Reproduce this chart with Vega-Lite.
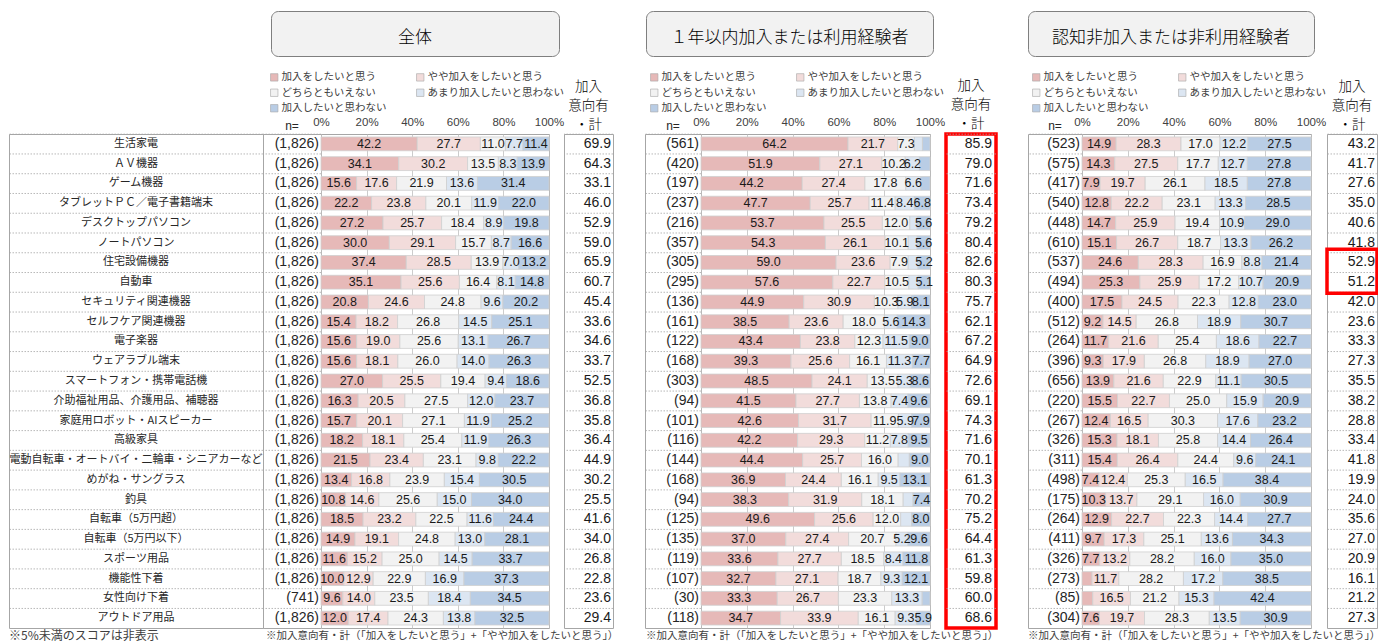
{
  "$schema": "https://vega.github.io/schema/vega-lite/v6.json",
  "padding": {"left": 8, "top": 10, "right": 0, "bottom": 0},
  "background": "#ffffff",
  "config": {
    "view": {"stroke": null},
    "font": "Noto Sans CJK JP",
    "concat": {"spacing": 0},
    "title": {"fontWeight": "normal"}
  },
  "datasets": {
    "cats": [
      {"key": "a", "o": 1, "label": "加入をしたいと思う"},
      {"key": "b", "o": 2, "label": "やや加入をしたいと思う"},
      {"key": "c", "o": 3, "label": "どちらともいえない"},
      {"key": "d", "o": 4, "label": "あまり加入したいと思わない"},
      {"key": "e", "o": 5, "label": "加入したいと思わない"}
    ],
    "rows": [
      {"g":"全体","item":"生活家電","n":"(1,826)","t":69.9,"a":42.2,"b":27.7,"c":11.0,"d":7.7,"e":11.4},
      {"g":"全体","item":"ＡＶ機器","n":"(1,826)","t":64.3,"a":34.1,"b":30.2,"c":13.5,"d":8.3,"e":13.9},
      {"g":"全体","item":"ゲーム機器","n":"(1,826)","t":33.1,"a":15.6,"b":17.6,"c":21.9,"d":13.6,"e":31.4},
      {"g":"全体","item":"タブレットＰＣ／電子書籍端末","n":"(1,826)","t":46.0,"a":22.2,"b":23.8,"c":20.1,"d":11.9,"e":22.0},
      {"g":"全体","item":"デスクトップパソコン","n":"(1,826)","t":52.9,"a":27.2,"b":25.7,"c":18.4,"d":8.9,"e":19.8},
      {"g":"全体","item":"ノートパソコン","n":"(1,826)","t":59.0,"a":30.0,"b":29.1,"c":15.7,"d":8.7,"e":16.6},
      {"g":"全体","item":"住宅設備機器","n":"(1,826)","t":65.9,"a":37.4,"b":28.5,"c":13.9,"d":7.0,"e":13.2},
      {"g":"全体","item":"自動車","n":"(1,826)","t":60.7,"a":35.1,"b":25.6,"c":16.4,"d":8.1,"e":14.8},
      {"g":"全体","item":"セキュリティ関連機器","n":"(1,826)","t":45.4,"a":20.8,"b":24.6,"c":24.8,"d":9.6,"e":20.2},
      {"g":"全体","item":"セルフケア関連機器","n":"(1,826)","t":33.6,"a":15.4,"b":18.2,"c":26.8,"d":14.5,"e":25.1},
      {"g":"全体","item":"電子楽器","n":"(1,826)","t":34.6,"a":15.6,"b":19.0,"c":25.6,"d":13.1,"e":26.7},
      {"g":"全体","item":"ウェアラブル端末","n":"(1,826)","t":33.7,"a":15.6,"b":18.1,"c":26.0,"d":14.0,"e":26.3},
      {"g":"全体","item":"スマートフォン・携帯電話機","n":"(1,826)","t":52.5,"a":27.0,"b":25.5,"c":19.4,"d":9.4,"e":18.6},
      {"g":"全体","item":"介助福祉用品、介護用品、補聴器","n":"(1,826)","t":36.8,"a":16.3,"b":20.5,"c":27.5,"d":12.0,"e":23.7},
      {"g":"全体","item":"家庭用ロボット・AIスピーカー","n":"(1,826)","t":35.8,"a":15.7,"b":20.1,"c":27.1,"d":11.9,"e":25.2},
      {"g":"全体","item":"高級家具","n":"(1,826)","t":36.4,"a":18.2,"b":18.1,"c":25.4,"d":11.9,"e":26.3},
      {"g":"全体","item":"電動自転車・オートバイ・二輪車・シニアカーなど","n":"(1,826)","t":44.9,"a":21.5,"b":23.4,"c":23.1,"d":9.8,"e":22.2},
      {"g":"全体","item":"めがね・サングラス","n":"(1,826)","t":30.2,"a":13.4,"b":16.8,"c":23.9,"d":15.4,"e":30.5},
      {"g":"全体","item":"釣具","n":"(1,826)","t":25.5,"a":10.8,"b":14.6,"c":25.6,"d":15.0,"e":34.0},
      {"g":"全体","item":"自転車（5万円超）","n":"(1,826)","t":41.6,"a":18.5,"b":23.2,"c":22.5,"d":11.6,"e":24.4},
      {"g":"全体","item":"自転車（5万円以下）","n":"(1,826)","t":34.0,"a":14.9,"b":19.1,"c":24.8,"d":13.0,"e":28.1},
      {"g":"全体","item":"スポーツ用品","n":"(1,826)","t":26.8,"a":11.6,"b":15.2,"c":25.0,"d":14.5,"e":33.7},
      {"g":"全体","item":"機能性下着","n":"(1,826)","t":22.8,"a":10.0,"b":12.9,"c":22.9,"d":16.9,"e":37.3},
      {"g":"全体","item":"女性向け下着","n":"(741)","t":23.6,"a":9.6,"b":14.0,"c":23.5,"d":18.4,"e":34.5},
      {"g":"全体","item":"アウトドア用品","n":"(1,826)","t":29.4,"a":12.0,"b":17.4,"c":24.3,"d":13.8,"e":32.5},

      {"g":"経験","item":"生活家電","n":"(561)","t":85.9,"a":64.2,"b":21.7,"c":7.3,"d":3.5,"e":3.3},
      {"g":"経験","item":"ＡＶ機器","n":"(420)","t":79.0,"a":51.9,"b":27.1,"c":10.2,"d":6.2,"e":4.6},
      {"g":"経験","item":"ゲーム機器","n":"(197)","t":71.6,"a":44.2,"b":27.4,"c":17.8,"d":6.6,"e":4.0},
      {"g":"経験","item":"タブレットＰＣ／電子書籍端末","n":"(237)","t":73.4,"a":47.7,"b":25.7,"c":11.4,"d":8.4,"e":6.8},
      {"g":"経験","item":"デスクトップパソコン","n":"(216)","t":79.2,"a":53.7,"b":25.5,"c":12.0,"d":3.2,"e":5.6},
      {"g":"経験","item":"ノートパソコン","n":"(357)","t":80.4,"a":54.3,"b":26.1,"c":10.1,"d":3.9,"e":5.6},
      {"g":"経験","item":"住宅設備機器","n":"(305)","t":82.6,"a":59.0,"b":23.6,"c":7.9,"d":4.3,"e":5.2},
      {"g":"経験","item":"自動車","n":"(295)","t":80.3,"a":57.6,"b":22.7,"c":10.5,"d":4.1,"e":5.1},
      {"g":"経験","item":"セキュリティ関連機器","n":"(136)","t":75.7,"a":44.9,"b":30.9,"c":10.3,"d":5.9,"e":8.1},
      {"g":"経験","item":"セルフケア関連機器","n":"(161)","t":62.1,"a":38.5,"b":23.6,"c":18.0,"d":5.6,"e":14.3},
      {"g":"経験","item":"電子楽器","n":"(122)","t":67.2,"a":43.4,"b":23.8,"c":12.3,"d":11.5,"e":9.0},
      {"g":"経験","item":"ウェアラブル端末","n":"(168)","t":64.9,"a":39.3,"b":25.6,"c":16.1,"d":11.3,"e":7.7},
      {"g":"経験","item":"スマートフォン・携帯電話機","n":"(303)","t":72.6,"a":48.5,"b":24.1,"c":13.5,"d":5.3,"e":8.6},
      {"g":"経験","item":"介助福祉用品、介護用品、補聴器","n":"(94)","t":69.1,"a":41.5,"b":27.7,"c":13.8,"d":7.4,"e":9.6},
      {"g":"経験","item":"家庭用ロボット・AIスピーカー","n":"(101)","t":74.3,"a":42.6,"b":31.7,"c":11.9,"d":5.9,"e":7.9},
      {"g":"経験","item":"高級家具","n":"(116)","t":71.6,"a":42.2,"b":29.3,"c":11.2,"d":7.8,"e":9.5},
      {"g":"経験","item":"電動自転車・オートバイ・二輪車・シニアカーなど","n":"(144)","t":70.1,"a":44.4,"b":25.7,"c":16.0,"d":4.9,"e":9.0},
      {"g":"経験","item":"めがね・サングラス","n":"(168)","t":61.3,"a":36.9,"b":24.4,"c":16.1,"d":9.5,"e":13.1},
      {"g":"経験","item":"釣具","n":"(94)","t":70.2,"a":38.3,"b":31.9,"c":18.1,"d":4.3,"e":7.4},
      {"g":"経験","item":"自転車（5万円超）","n":"(125)","t":75.2,"a":49.6,"b":25.6,"c":12.0,"d":4.8,"e":8.0},
      {"g":"経験","item":"自転車（5万円以下）","n":"(135)","t":64.4,"a":37.0,"b":27.4,"c":20.7,"d":5.2,"e":9.6},
      {"g":"経験","item":"スポーツ用品","n":"(119)","t":61.3,"a":33.6,"b":27.7,"c":18.5,"d":8.4,"e":11.8},
      {"g":"経験","item":"機能性下着","n":"(107)","t":59.8,"a":32.7,"b":27.1,"c":18.7,"d":9.3,"e":12.1},
      {"g":"経験","item":"女性向け下着","n":"(30)","t":60.0,"a":33.3,"b":26.7,"c":23.3,"d":13.3,"e":3.4},
      {"g":"経験","item":"アウトドア用品","n":"(118)","t":68.6,"a":34.7,"b":33.9,"c":16.1,"d":9.3,"e":5.9},

      {"g":"非経験","item":"生活家電","n":"(523)","t":43.2,"a":14.9,"b":28.3,"c":17.0,"d":12.2,"e":27.5},
      {"g":"非経験","item":"ＡＶ機器","n":"(575)","t":41.7,"a":14.3,"b":27.5,"c":17.7,"d":12.7,"e":27.8},
      {"g":"非経験","item":"ゲーム機器","n":"(417)","t":27.6,"a":7.9,"b":19.7,"c":26.1,"d":18.5,"e":27.8},
      {"g":"非経験","item":"タブレットＰＣ／電子書籍端末","n":"(540)","t":35.0,"a":12.8,"b":22.2,"c":23.1,"d":13.3,"e":28.5},
      {"g":"非経験","item":"デスクトップパソコン","n":"(448)","t":40.6,"a":14.7,"b":25.9,"c":19.4,"d":10.9,"e":29.0},
      {"g":"非経験","item":"ノートパソコン","n":"(610)","t":41.8,"a":15.1,"b":26.7,"c":18.7,"d":13.3,"e":26.2},
      {"g":"非経験","item":"住宅設備機器","n":"(537)","t":52.9,"a":24.6,"b":28.3,"c":16.9,"d":8.8,"e":21.4},
      {"g":"非経験","item":"自動車","n":"(494)","t":51.2,"a":25.3,"b":25.9,"c":17.2,"d":10.7,"e":20.9},
      {"g":"非経験","item":"セキュリティ関連機器","n":"(400)","t":42.0,"a":17.5,"b":24.5,"c":22.3,"d":12.8,"e":23.0},
      {"g":"非経験","item":"セルフケア関連機器","n":"(512)","t":23.6,"a":9.2,"b":14.5,"c":26.8,"d":18.9,"e":30.7},
      {"g":"非経験","item":"電子楽器","n":"(264)","t":33.3,"a":11.7,"b":21.6,"c":25.4,"d":18.6,"e":22.7},
      {"g":"非経験","item":"ウェアラブル端末","n":"(396)","t":27.3,"a":9.3,"b":17.9,"c":26.8,"d":18.9,"e":27.0},
      {"g":"非経験","item":"スマートフォン・携帯電話機","n":"(656)","t":35.5,"a":13.9,"b":21.6,"c":22.9,"d":11.1,"e":30.5},
      {"g":"非経験","item":"介助福祉用品、介護用品、補聴器","n":"(220)","t":38.2,"a":15.5,"b":22.7,"c":25.0,"d":15.9,"e":20.9},
      {"g":"非経験","item":"家庭用ロボット・AIスピーカー","n":"(267)","t":28.8,"a":12.4,"b":16.5,"c":30.3,"d":17.6,"e":23.2},
      {"g":"非経験","item":"高級家具","n":"(326)","t":33.4,"a":15.3,"b":18.1,"c":25.8,"d":14.4,"e":26.4},
      {"g":"非経験","item":"電動自転車・オートバイ・二輪車・シニアカーなど","n":"(311)","t":41.8,"a":15.4,"b":26.4,"c":24.4,"d":9.6,"e":24.1},
      {"g":"非経験","item":"めがね・サングラス","n":"(498)","t":19.9,"a":7.4,"b":12.4,"c":25.3,"d":16.5,"e":38.4},
      {"g":"非経験","item":"釣具","n":"(175)","t":24.0,"a":10.3,"b":13.7,"c":29.1,"d":16.0,"e":30.9},
      {"g":"非経験","item":"自転車（5万円超）","n":"(264)","t":35.6,"a":12.9,"b":22.7,"c":22.3,"d":14.4,"e":27.7},
      {"g":"非経験","item":"自転車（5万円以下）","n":"(411)","t":27.0,"a":9.7,"b":17.3,"c":25.1,"d":13.6,"e":34.3},
      {"g":"非経験","item":"スポーツ用品","n":"(326)","t":20.9,"a":7.7,"b":13.2,"c":28.2,"d":16.0,"e":35.0},
      {"g":"非経験","item":"機能性下着","n":"(273)","t":16.1,"a":4.4,"b":11.7,"c":28.2,"d":17.2,"e":38.5},
      {"g":"非経験","item":"女性向け下着","n":"(85)","t":21.2,"a":4.7,"b":16.5,"c":21.2,"d":15.3,"e":42.4},
      {"g":"非経験","item":"アウトドア用品","n":"(304)","t":27.3,"a":7.6,"b":19.7,"c":28.3,"d":13.5,"e":30.9}
    ]
  },
  "resolve": {"scale": {"color": "independent"}, "legend": {"color": "independent"}},
  "spacing": 14,
  "vconcat": [
    {
      "hconcat": [
        {"width": 262, "height": 45, "data": {"values": [{}]}, "mark": "text", "encoding": {}},
        {"width": 288, "height": 45, "data": {"values": [{"t": "全体"}]}, "view": {"fill": "#f2f2f2", "stroke": "#7f7f7f", "cornerRadius": 7}, "mark": {"type": "text", "fontSize": 17, "fontWeight": 300, "font": "Noto Sans CJK JP", "dy": 4, "color": "#000000"}, "encoding": {"text": {"field": "t"}}},
        {"width": 87, "height": 45, "data": {"values": [{}]}, "mark": "text", "encoding": {}},
        {"width": 287, "height": 45, "data": {"values": [{"t": "１年以内加入または利用経験者"}]}, "view": {"fill": "#f2f2f2", "stroke": "#7f7f7f", "cornerRadius": 7}, "mark": {"type": "text", "fontSize": 17, "fontWeight": 300, "font": "Noto Sans CJK JP", "dy": 4, "color": "#000000"}, "encoding": {"text": {"field": "t"}}},
        {"width": 95, "height": 45, "data": {"values": [{}]}, "mark": "text", "encoding": {}},
        {"width": 286, "height": 45, "data": {"values": [{"t": "認知非加入または非利用経験者"}]}, "view": {"fill": "#f2f2f2", "stroke": "#7f7f7f", "cornerRadius": 7}, "mark": {"type": "text", "fontSize": 17, "fontWeight": 300, "font": "Noto Sans CJK JP", "dy": 4, "color": "#000000"}, "encoding": {"text": {"field": "t"}}}
      ],
      "spacing": 0,
      "bounds": "flush"
    },
    {
      "hconcat": [
        {
          "width": 254, "height": 494,
          "data": {"name": "rows"},
          "transform": [{"filter": "datum.g === '全体'"}],
          "view": {"stroke": "#a6a6a6"},
          "title": {"text": "※5%未満のスコアは非表示", "orient": "bottom", "anchor": "start", "frame": "group", "offset": 3, "fontSize": 12, "fontWeight": "normal", "font": "Noto Sans CJK JP", "color": "#404040"},
          "encoding": {"y": {"field": "item", "type": "nominal", "sort": null, "axis": null, "scale": {"paddingInner": 0.3, "paddingOuter": 0.15}}},
          "layer": [
            {"mark": {"type": "rule", "color": "#a6a6a6", "strokeDash": [1.5, 1.5], "strokeWidth": 0.8}, "encoding": {"y": {"field": "item", "type": "nominal", "sort": null, "axis": null, "bandPosition": -0.2}}},
            {"mark": {"type": "text", "fontSize": 11, "font": "Noto Sans CJK JP", "color": "#262626"}, "encoding": {"text": {"field": "item"}}}
          ]
        },
        {
          "width": 58, "height": 494,
          "data": {"name": "rows"},
          "transform": [{"filter": "datum.g === '全体'"}],
          "view": {"stroke": "#a6a6a6"},
          "title": {"text": "n=", "orient": "top", "anchor": "middle", "offset": 1, "fontSize": 12, "fontWeight": "normal", "font": "Liberation Sans", "color": "#262626"},
          "encoding": {"y": {"field": "item", "type": "nominal", "sort": null, "axis": null, "scale": {"paddingInner": 0.3, "paddingOuter": 0.15}}},
          "layer": [
            {"mark": {"type": "rule", "color": "#a6a6a6", "strokeDash": [1.5, 1.5], "strokeWidth": 0.8}, "encoding": {"y": {"field": "item", "type": "nominal", "sort": null, "axis": null, "bandPosition": -0.2}}},
            {"mark": {"type": "text", "align": "right", "dx": -2, "fontSize": 14, "font": "Liberation Sans", "color": "#262626"}, "encoding": {"x": {"value": "width"}, "text": {"field": "n"}}}
          ]
        },
        {
          "width": 228, "height": 494,
          "data": {"name": "rows"},
          "transform": [
            {"filter": "datum.g === '全体'"},
            {"fold": ["a", "b", "c", "d", "e"], "as": ["key", "v"]},
            {"lookup": "key", "from": {"data": {"name": "cats"}, "key": "key", "fields": ["label", "o"]}}
          ],
          "view": {"stroke": "#a6a6a6"},
          "title": {"text": "※加入意向有・計（「加入をしたいと思う」+「やや加入をしたいと思う」）", "orient": "bottom", "anchor": "start", "frame": "group", "dx": -55, "offset": 3, "fontSize": 10.5, "fontWeight": "normal", "font": "Noto Sans CJK JP", "color": "#404040"},
          "encoding": {
            "y": {"field": "item", "type": "nominal", "sort": null, "axis": null, "scale": {"paddingInner": 0.3, "paddingOuter": 0.15}},
            "x": {"field": "v", "type": "quantitative", "stack": "normalize", "scale": {"domain": [0, 1], "nice": false},
                  "axis": {"orient": "top", "values": [0, 0.2, 0.4, 0.6, 0.8, 1], "format": ".0%", "title": null, "domain": false, "ticks": false, "tickSize": 0, "labelPadding": 7, "labelFontSize": 11.5, "labelFont": "Liberation Sans", "labelColor": "#404040", "grid": true, "gridColor": "#bfbfbf", "gridWidth": 0.8, "labelFlush": false, "labelOverlap": false}}
          },
          "layer": [
            {"mark": {"type": "bar", "stroke": "#cfcfcf", "strokeWidth": 0.8},
             "encoding": {
               "color": {"field": "label", "type": "nominal",
                 "scale": {"domain": ["加入をしたいと思う", "やや加入をしたいと思う", "どちらともいえない", "あまり加入したいと思わない", "加入したいと思わない"], "range": ["#e6b9b8", "#f2dcdb", "#f2f2f2", "#dce6f2", "#b9cde5"]},
                 "legend": {"orient": "none", "legendX": -52, "legendY": -62, "title": null, "columns": 2, "values": ["加入をしたいと思う", "どちらともいえない", "加入したいと思わない", "やや加入をしたいと思う", "あまり加入したいと思わない"], "symbolType": "square", "symbolSize": 55, "symbolStrokeColor": "#a6a6a6", "symbolStrokeWidth": 0.6, "labelFontSize": 10.5, "labelFont": "Noto Sans CJK JP", "labelColor": "#404040", "labelOffset": 2, "columnPadding": 28, "rowPadding": 4.5, "labelLimit": 220}},
               "order": {"field": "o", "type": "quantitative"}
             }},
            {"mark": {"type": "text", "fontSize": 12.5, "font": "Liberation Sans", "color": "#1a1a1a"},
             "encoding": {
               "x": {"field": "v", "type": "quantitative", "stack": "normalize", "bandPosition": 0.5},
               "detail": {"field": "label"},
               "order": {"field": "o", "type": "quantitative"},
               "text": {"field": "v", "type": "quantitative", "format": ".1f"},
               "opacity": {"condition": {"test": "datum.v < 5", "value": 0}, "value": 1}
             }}
          ]
        },
        {"width": 15, "height": 494, "data": {"values": [{}]}, "mark": "text", "encoding": {}},
        {
          "width": 49, "height": 494,
          "data": {"name": "rows"},
          "transform": [{"filter": "datum.g === '全体'"}],
          "view": {"stroke": "#a6a6a6"},
          "title": {"text": ["加入", "意向有", "・計"], "orient": "top", "anchor": "middle", "offset": 2, "fontSize": 13.5, "fontWeight": 300, "lineHeight": 19, "font": "Noto Sans CJK JP", "color": "#000000"},
          "encoding": {"y": {"field": "item", "type": "nominal", "sort": null, "axis": null, "scale": {"paddingInner": 0.3, "paddingOuter": 0.15}}},
          "layer": [
            {"mark": {"type": "rule", "color": "#a6a6a6", "strokeDash": [1.5, 1.5], "strokeWidth": 0.8}, "encoding": {"y": {"field": "item", "type": "nominal", "sort": null, "axis": null, "bandPosition": -0.2}}},
            {"mark": {"type": "text", "align": "right", "dx": -2, "fontSize": 14, "font": "Liberation Sans", "color": "#1a1a1a"}, "encoding": {"x": {"value": "width"}, "text": {"field": "t", "type": "quantitative", "format": ".1f"}}}
          ]
        },
        {"width": 32, "height": 494, "data": {"values": [{}]}, "mark": "text", "encoding": {}},
        {
          "width": 56, "height": 494,
          "data": {"name": "rows"},
          "transform": [{"filter": "datum.g === '経験'"}],
          "view": {"stroke": "#a6a6a6"},
          "title": {"text": "n=", "orient": "top", "anchor": "middle", "offset": 1, "fontSize": 12, "fontWeight": "normal", "font": "Liberation Sans", "color": "#262626"},
          "encoding": {"y": {"field": "item", "type": "nominal", "sort": null, "axis": null, "scale": {"paddingInner": 0.3, "paddingOuter": 0.15}}},
          "layer": [
            {"mark": {"type": "rule", "color": "#a6a6a6", "strokeDash": [1.5, 1.5], "strokeWidth": 0.8}, "encoding": {"y": {"field": "item", "type": "nominal", "sort": null, "axis": null, "bandPosition": -0.2}}},
            {"mark": {"type": "text", "align": "right", "dx": -2, "fontSize": 14, "font": "Liberation Sans", "color": "#262626"}, "encoding": {"x": {"value": "width"}, "text": {"field": "n"}}}
          ]
        },
        {
          "width": 229, "height": 494,
          "data": {"name": "rows"},
          "transform": [
            {"filter": "datum.g === '経験'"},
            {"fold": ["a", "b", "c", "d", "e"], "as": ["key", "v"]},
            {"lookup": "key", "from": {"data": {"name": "cats"}, "key": "key", "fields": ["label", "o"]}}
          ],
          "view": {"stroke": "#a6a6a6"},
          "title": {"text": "※加入意向有・計（「加入をしたいと思う」+「やや加入をしたいと思う」）", "orient": "bottom", "anchor": "start", "frame": "group", "dx": -55, "offset": 3, "fontSize": 10.5, "fontWeight": "normal", "font": "Noto Sans CJK JP", "color": "#404040"},
          "encoding": {
            "y": {"field": "item", "type": "nominal", "sort": null, "axis": null, "scale": {"paddingInner": 0.3, "paddingOuter": 0.15}},
            "x": {"field": "v", "type": "quantitative", "stack": "normalize", "scale": {"domain": [0, 1], "nice": false},
                  "axis": {"orient": "top", "values": [0, 0.2, 0.4, 0.6, 0.8, 1], "format": ".0%", "title": null, "domain": false, "ticks": false, "tickSize": 0, "labelPadding": 7, "labelFontSize": 11.5, "labelFont": "Liberation Sans", "labelColor": "#404040", "grid": true, "gridColor": "#bfbfbf", "gridWidth": 0.8, "labelFlush": false, "labelOverlap": false}}
          },
          "layer": [
            {"mark": {"type": "bar", "stroke": "#cfcfcf", "strokeWidth": 0.8},
             "encoding": {
               "color": {"field": "label", "type": "nominal",
                 "scale": {"domain": ["加入をしたいと思う", "やや加入をしたいと思う", "どちらともいえない", "あまり加入したいと思わない", "加入したいと思わない"], "range": ["#e6b9b8", "#f2dcdb", "#f2f2f2", "#dce6f2", "#b9cde5"]},
                 "legend": {"orient": "none", "legendX": -52, "legendY": -62, "title": null, "columns": 2, "values": ["加入をしたいと思う", "どちらともいえない", "加入したいと思わない", "やや加入をしたいと思う", "あまり加入したいと思わない"], "symbolType": "square", "symbolSize": 55, "symbolStrokeColor": "#a6a6a6", "symbolStrokeWidth": 0.6, "labelFontSize": 10.5, "labelFont": "Noto Sans CJK JP", "labelColor": "#404040", "labelOffset": 2, "columnPadding": 28, "rowPadding": 4.5, "labelLimit": 220}},
               "order": {"field": "o", "type": "quantitative"}
             }},
            {"mark": {"type": "text", "fontSize": 12.5, "font": "Liberation Sans", "color": "#1a1a1a"},
             "encoding": {
               "x": {"field": "v", "type": "quantitative", "stack": "normalize", "bandPosition": 0.5},
               "detail": {"field": "label"},
               "order": {"field": "o", "type": "quantitative"},
               "text": {"field": "v", "type": "quantitative", "format": ".1f"},
               "opacity": {"condition": {"test": "datum.v < 5", "value": 0}, "value": 1}
             }}
          ]
        },
        {"width": 16, "height": 494, "data": {"values": [{}]}, "mark": "text", "encoding": {}},
        {
          "width": 50, "height": 494,
          "data": {"name": "rows"},
          "transform": [{"filter": "datum.g === '経験'"}],
          "view": {"stroke": "#ff0000", "strokeWidth": 3.5},
          "title": {"text": ["加入", "意向有", "・計"], "orient": "top", "anchor": "middle", "offset": 3, "fontSize": 13.5, "fontWeight": 300, "lineHeight": 19, "font": "Noto Sans CJK JP", "color": "#000000"},
          "encoding": {"y": {"field": "item", "type": "nominal", "sort": null, "axis": null, "scale": {"paddingInner": 0.3, "paddingOuter": 0.15}}},
          "layer": [
            {"mark": {"type": "rule", "color": "#a6a6a6", "strokeDash": [1.5, 1.5], "strokeWidth": 0.8}, "encoding": {"y": {"field": "item", "type": "nominal", "sort": null, "axis": null, "bandPosition": -0.2}}},
            {"mark": {"type": "text", "align": "right", "dx": -4, "fontSize": 14, "font": "Liberation Sans", "color": "#1a1a1a"}, "encoding": {"x": {"value": "width"}, "text": {"field": "t", "type": "quantitative", "format": ".1f"}}}
          ]
        },
        {"width": 32, "height": 494, "data": {"values": [{}]}, "mark": "text", "encoding": {}},
        {
          "width": 54, "height": 494,
          "data": {"name": "rows"},
          "transform": [{"filter": "datum.g === '非経験'"}],
          "view": {"stroke": "#a6a6a6"},
          "title": {"text": "n=", "orient": "top", "anchor": "middle", "offset": 1, "fontSize": 12, "fontWeight": "normal", "font": "Liberation Sans", "color": "#262626"},
          "encoding": {"y": {"field": "item", "type": "nominal", "sort": null, "axis": null, "scale": {"paddingInner": 0.3, "paddingOuter": 0.15}}},
          "layer": [
            {"mark": {"type": "rule", "color": "#a6a6a6", "strokeDash": [1.5, 1.5], "strokeWidth": 0.8}, "encoding": {"y": {"field": "item", "type": "nominal", "sort": null, "axis": null, "bandPosition": -0.2}}},
            {"mark": {"type": "text", "align": "right", "dx": -2, "fontSize": 14, "font": "Liberation Sans", "color": "#262626"}, "encoding": {"x": {"value": "width"}, "text": {"field": "n"}}}
          ]
        },
        {
          "width": 229, "height": 494,
          "data": {"name": "rows"},
          "transform": [
            {"filter": "datum.g === '非経験'"},
            {"fold": ["a", "b", "c", "d", "e"], "as": ["key", "v"]},
            {"lookup": "key", "from": {"data": {"name": "cats"}, "key": "key", "fields": ["label", "o"]}}
          ],
          "view": {"stroke": "#a6a6a6"},
          "title": {"text": "※加入意向有・計（「加入をしたいと思う」+「やや加入をしたいと思う」）", "orient": "bottom", "anchor": "start", "frame": "group", "dx": -54, "offset": 3, "fontSize": 10.5, "fontWeight": "normal", "font": "Noto Sans CJK JP", "color": "#404040"},
          "encoding": {
            "y": {"field": "item", "type": "nominal", "sort": null, "axis": null, "scale": {"paddingInner": 0.3, "paddingOuter": 0.15}},
            "x": {"field": "v", "type": "quantitative", "stack": "normalize", "scale": {"domain": [0, 1], "nice": false},
                  "axis": {"orient": "top", "values": [0, 0.2, 0.4, 0.6, 0.8, 1], "format": ".0%", "title": null, "domain": false, "ticks": false, "tickSize": 0, "labelPadding": 7, "labelFontSize": 11.5, "labelFont": "Liberation Sans", "labelColor": "#404040", "grid": true, "gridColor": "#bfbfbf", "gridWidth": 0.8, "labelFlush": false, "labelOverlap": false}}
          },
          "layer": [
            {"mark": {"type": "bar", "stroke": "#cfcfcf", "strokeWidth": 0.8},
             "encoding": {
               "color": {"field": "label", "type": "nominal",
                 "scale": {"domain": ["加入をしたいと思う", "やや加入をしたいと思う", "どちらともいえない", "あまり加入したいと思わない", "加入したいと思わない"], "range": ["#e6b9b8", "#f2dcdb", "#f2f2f2", "#dce6f2", "#b9cde5"]},
                 "legend": {"orient": "none", "legendX": -51, "legendY": -62, "title": null, "columns": 2, "values": ["加入をしたいと思う", "どちらともいえない", "加入したいと思わない", "やや加入をしたいと思う", "あまり加入したいと思わない"], "symbolType": "square", "symbolSize": 55, "symbolStrokeColor": "#a6a6a6", "symbolStrokeWidth": 0.6, "labelFontSize": 10.5, "labelFont": "Noto Sans CJK JP", "labelColor": "#404040", "labelOffset": 2, "columnPadding": 28, "rowPadding": 4.5, "labelLimit": 220}},
               "order": {"field": "o", "type": "quantitative"}
             }},
            {"mark": {"type": "text", "fontSize": 12.5, "font": "Liberation Sans", "color": "#1a1a1a"},
             "encoding": {
               "x": {"field": "v", "type": "quantitative", "stack": "normalize", "bandPosition": 0.5},
               "detail": {"field": "label"},
               "order": {"field": "o", "type": "quantitative"},
               "text": {"field": "v", "type": "quantitative", "format": ".1f"},
               "opacity": {"condition": {"test": "datum.v < 5", "value": 0}, "value": 1}
             }}
          ]
        },
        {"width": 16, "height": 494, "data": {"values": [{}]}, "mark": "text", "encoding": {}},
        {
          "width": 50, "height": 494,
          "data": {"name": "rows"},
          "transform": [{"filter": "datum.g === '非経験'"}],
          "view": {"stroke": "#a6a6a6"},
          "title": {"text": ["加入", "意向有", "・計"], "orient": "top", "anchor": "middle", "offset": 2, "fontSize": 13.5, "fontWeight": 300, "lineHeight": 19, "font": "Noto Sans CJK JP", "color": "#000000"},
          "encoding": {"y": {"field": "item", "type": "nominal", "sort": null, "axis": null, "scale": {"paddingInner": 0.3, "paddingOuter": 0.15}}},
          "layer": [
            {"mark": {"type": "rule", "color": "#a6a6a6", "strokeDash": [1.5, 1.5], "strokeWidth": 0.8}, "encoding": {"y": {"field": "item", "type": "nominal", "sort": null, "axis": null, "bandPosition": -0.2}}},
            {"mark": {"type": "text", "align": "right", "dx": -2, "fontSize": 14, "font": "Liberation Sans", "color": "#1a1a1a"}, "encoding": {"x": {"value": "width"}, "text": {"field": "t", "type": "quantitative", "format": ".1f"}}},
            {"transform": [{"filter": "datum.item === '住宅設備機器'"}],
             "mark": {"type": "rect", "filled": false, "color": "#ff0000", "strokeWidth": 3.5},
             "encoding": {"y": {"field": "item", "type": "nominal", "sort": null, "axis": null, "bandPosition": -0.45}, "y2": {"datum": "自動車", "bandPosition": 1.3}}}
          ]
        }
      ],
      "spacing": 0,
      "bounds": "flush",
      "resolve": {"scale": {"color": "independent"}, "legend": {"color": "independent"}}
    }
  ]
}
